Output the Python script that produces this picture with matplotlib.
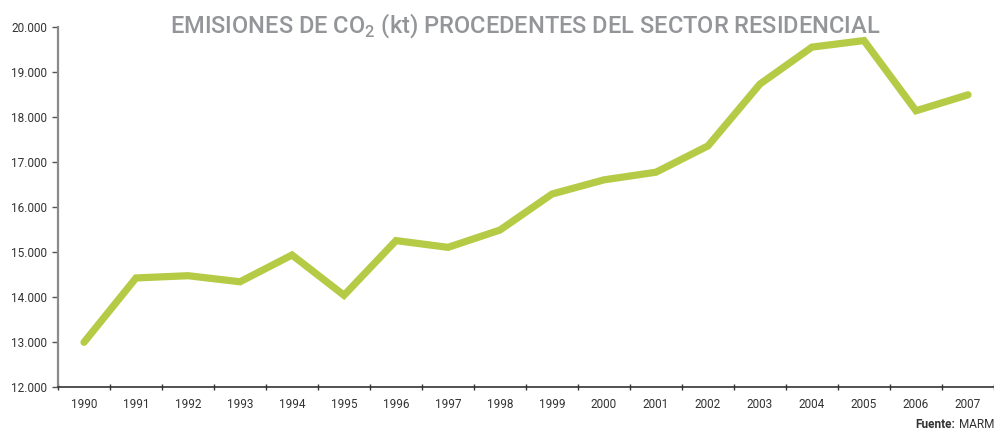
import matplotlib
matplotlib.use("Agg")
import matplotlib.pyplot as plt
from matplotlib.ticker import FuncFormatter

# datos (kt CO2, sector residencial)
years = [str(y) for y in range(1990, 2008)]
emissions = [13000, 14430, 14480, 14345, 14940, 14045, 15260, 15110, 15495,
             16295, 16610, 16780, 17365, 18740, 19560, 19705, 18145, 18500]
y_ticks = [12000, 13000, 14000, 15000, 16000, 17000, 18000, 19000, 20000]

plt.rcParams['font.family'] = ['Roboto', 'DejaVu Sans']
plt.rcParams['mathtext.fontset'] = 'custom'
plt.rcParams['mathtext.rm'] = 'Roboto'

fig = plt.figure(figsize=(9.95, 4.30), dpi=100)
ax = fig.add_axes([58 / 995, 1 - 387.3 / 430, 936 / 995, 360 / 430])

x = list(range(len(years)))
ax.plot(x, emissions, color='#b5cb46', linewidth=5.2,
        solid_capstyle='round', solid_joinstyle='miter')

ax.set_xlim(-0.5, len(years) - 0.5)
ax.set_ylim(12000, 20000)
ax.set_yticks(y_ticks)
ax.yaxis.set_major_formatter(FuncFormatter(lambda v, p: f"{int(v):,}".replace(',', '.')))
ax.set_xticks(x)
ax.set_xticklabels(years)
ax.set_xticks([i - 0.5 for i in range(len(years) + 1)], minor=True)

for s in ['top', 'right']:
    ax.spines[s].set_visible(False)
ax.spines['left'].set_color('#8a8a8a')
ax.spines['left'].set_linewidth(1.6)
ax.spines['bottom'].set_color('#333333')
ax.spines['bottom'].set_linewidth(1.2)

ax.tick_params(axis='y', length=4, width=1, color='#555555', labelsize=8.5,
               labelcolor='#333333', pad=4)
ax.tick_params(axis='x', which='major', length=0, labelsize=8.5,
               labelcolor='#333333', pad=8)
ax.tick_params(axis='x', which='minor', length=4, width=1, color='#333333',
               direction='inout')

fig.text(0.528, 0.94, r'EMISIONES DE CO$_\mathregular{2}$ (kt) PROCEDENTES DEL SECTOR RESIDENCIAL',
         ha='center', va='center', fontsize=17, color='#939598', fontweight='medium')

fig.text(955 / 995, 0.012, 'Fuente:', ha='right', va='center', fontsize=8.5,
         color='#333333', fontweight='bold')
fig.text(0.999, 0.012, 'MARM', ha='right', va='center', fontsize=8.5, color='#333333')

fig.savefig('out.png', dpi=100)
